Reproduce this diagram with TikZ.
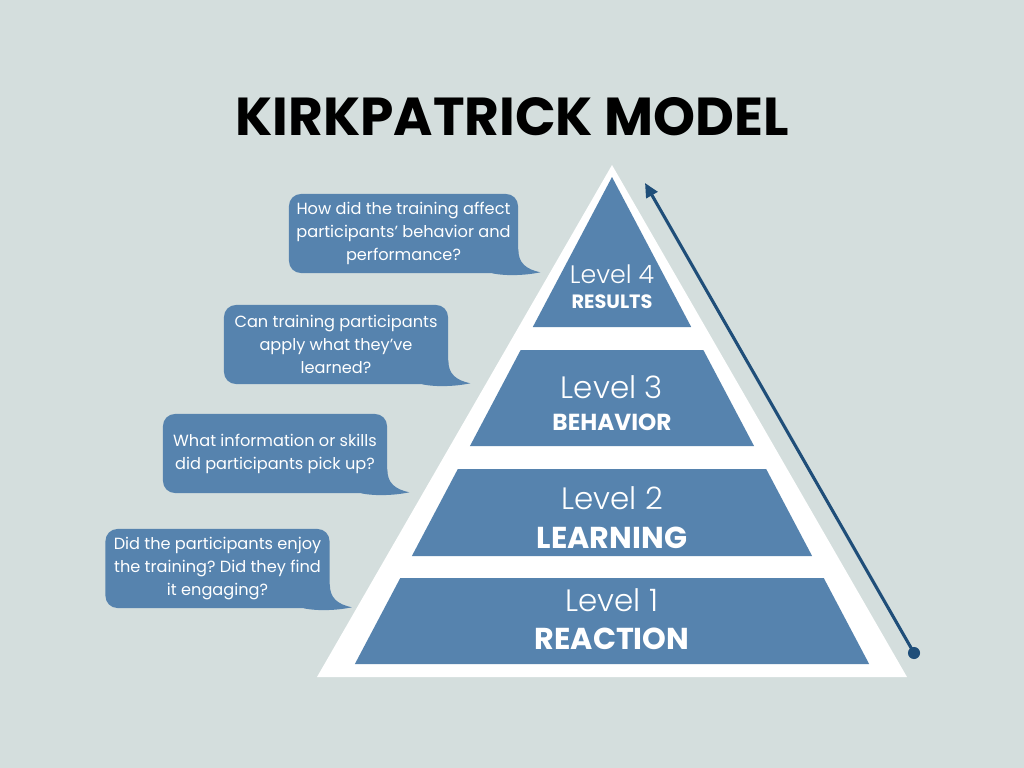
\documentclass[tikz,border=0pt]{standalone}
\usepackage{fontspec}
\setmainfont{Poppins}
\newfontfamily\levelfont{Poppins Light}
\usetikzlibrary{positioning, arrows.meta, calc}
\frenchspacing

\definecolor{bgcol}{HTML}{D4DEDD}
\definecolor{bandblue}{HTML}{5683AE}
\definecolor{arrowblue}{HTML}{1F4E79}

\begin{document}
\begin{tikzpicture}[
  x=0.025cm, y=-0.025cm,
  bubble/.style={fill=bandblue, rounded corners=8.5pt, minimum width=5.6cm, minimum height=1.975cm,
                 text=white, align=center, inner sep=0pt, font=\fontsize{11.5}{16.3}\selectfont},
  lvl/.style={text=white, inner sep=0pt, font=\levelfont\fontsize{22}{22}\selectfont},
  cat/.style={text=white, inner sep=0pt, font=\bfseries\fontsize{21.5}{21.5}\selectfont},
  band/.style={fill=bandblue},
]
  % background and frame
  \fill[bgcol] (0,0) rectangle (1024,768);
  \useasboundingbox (0,0) rectangle (1024,768);

  \node[font=\bfseries\fontsize{38}{38}\selectfont] (title) at (512,117) {KIRKPATRICK MODEL};

  % white pyramid outline
  \fill[white] (612,165) -- (907,677) -- (317,677) -- cycle;

  % the four levels (cut from one triangle)
  \foreach \t/\b in {177/327, 350/446, 469/556, 578/664} {
    \fill[band] ({612-0.528*(\t-177)},\t) -- ({612+0.528*(\t-177)},\t)
      -- ({612+0.528*(\b-177)},\b) -- ({612-0.528*(\b-177)},\b) -- cycle;
  }

  \node[lvl] (lv1) at (612,600) {Level 1};
  \node[cat] (ct1) at (612,639) {REACTION};
  \node[lvl] (lv2) at (612,498) {Level 2};
  \node[cat] (ct2) at (612,538) {LEARNING};
  \node[lvl] (lv3) at (612,387) {Level 3};
  \node[cat, font=\bfseries\fontsize{16.5}{16.5}\selectfont] (ct3) at (612,422) {BEHAVIOR};
  \node[lvl, font=\levelfont\fontsize{18}{18}\selectfont] (lv4) at (612,274) {Level 4};
  \node[cat, font=\bfseries\fontsize{13.7}{13.7}\selectfont] (ct4) at (612,302) {RESULTS};

  % speech bubbles
  \node[bubble, minimum width=5.725cm] (q4) at (403.5,233.5) {How did the training affect\\participants' behavior and\\performance?};
  \node[bubble] (q3) at (336,344.5) {Can training participants\\apply what they've\\learned?};
  \node[bubble] (q2) at (275,453.5) {What information or skills\\did participants pick up?};
  \node[bubble] (q1) at (217.5,568.5) {Did the participants enjoy\\the training? Did they find\\it engaging?};
  \foreach \q in {q1,q2,q3,q4} {
    \fill[bandblue] ($(\q.south east)+(-26,0)$) .. controls ($(\q.south east)+(-12,3)$) and ($(\q.south east)+(8,2)$)
      .. ($(\q.south east)+(22,-1)$) .. controls ($(\q.south east)+(8,-4)$) and ($(\q.south east)+(0,-10)$)
      .. ($(\q.south east)+(0,-24)$) -- ($(\q.south east)+(-26,-24)$) -- cycle;
  }

  % upward arrow
  \coordinate (arrbase) at (914,653);
  \coordinate (arrtip) at (645,183);
  \draw[arrowblue, line width=2.2pt, -{Triangle[length=10pt, width=9pt]}] (arrbase) -- (arrtip);
  \fill[arrowblue] (arrbase) circle (4.3pt);
\end{tikzpicture}
\end{document}
